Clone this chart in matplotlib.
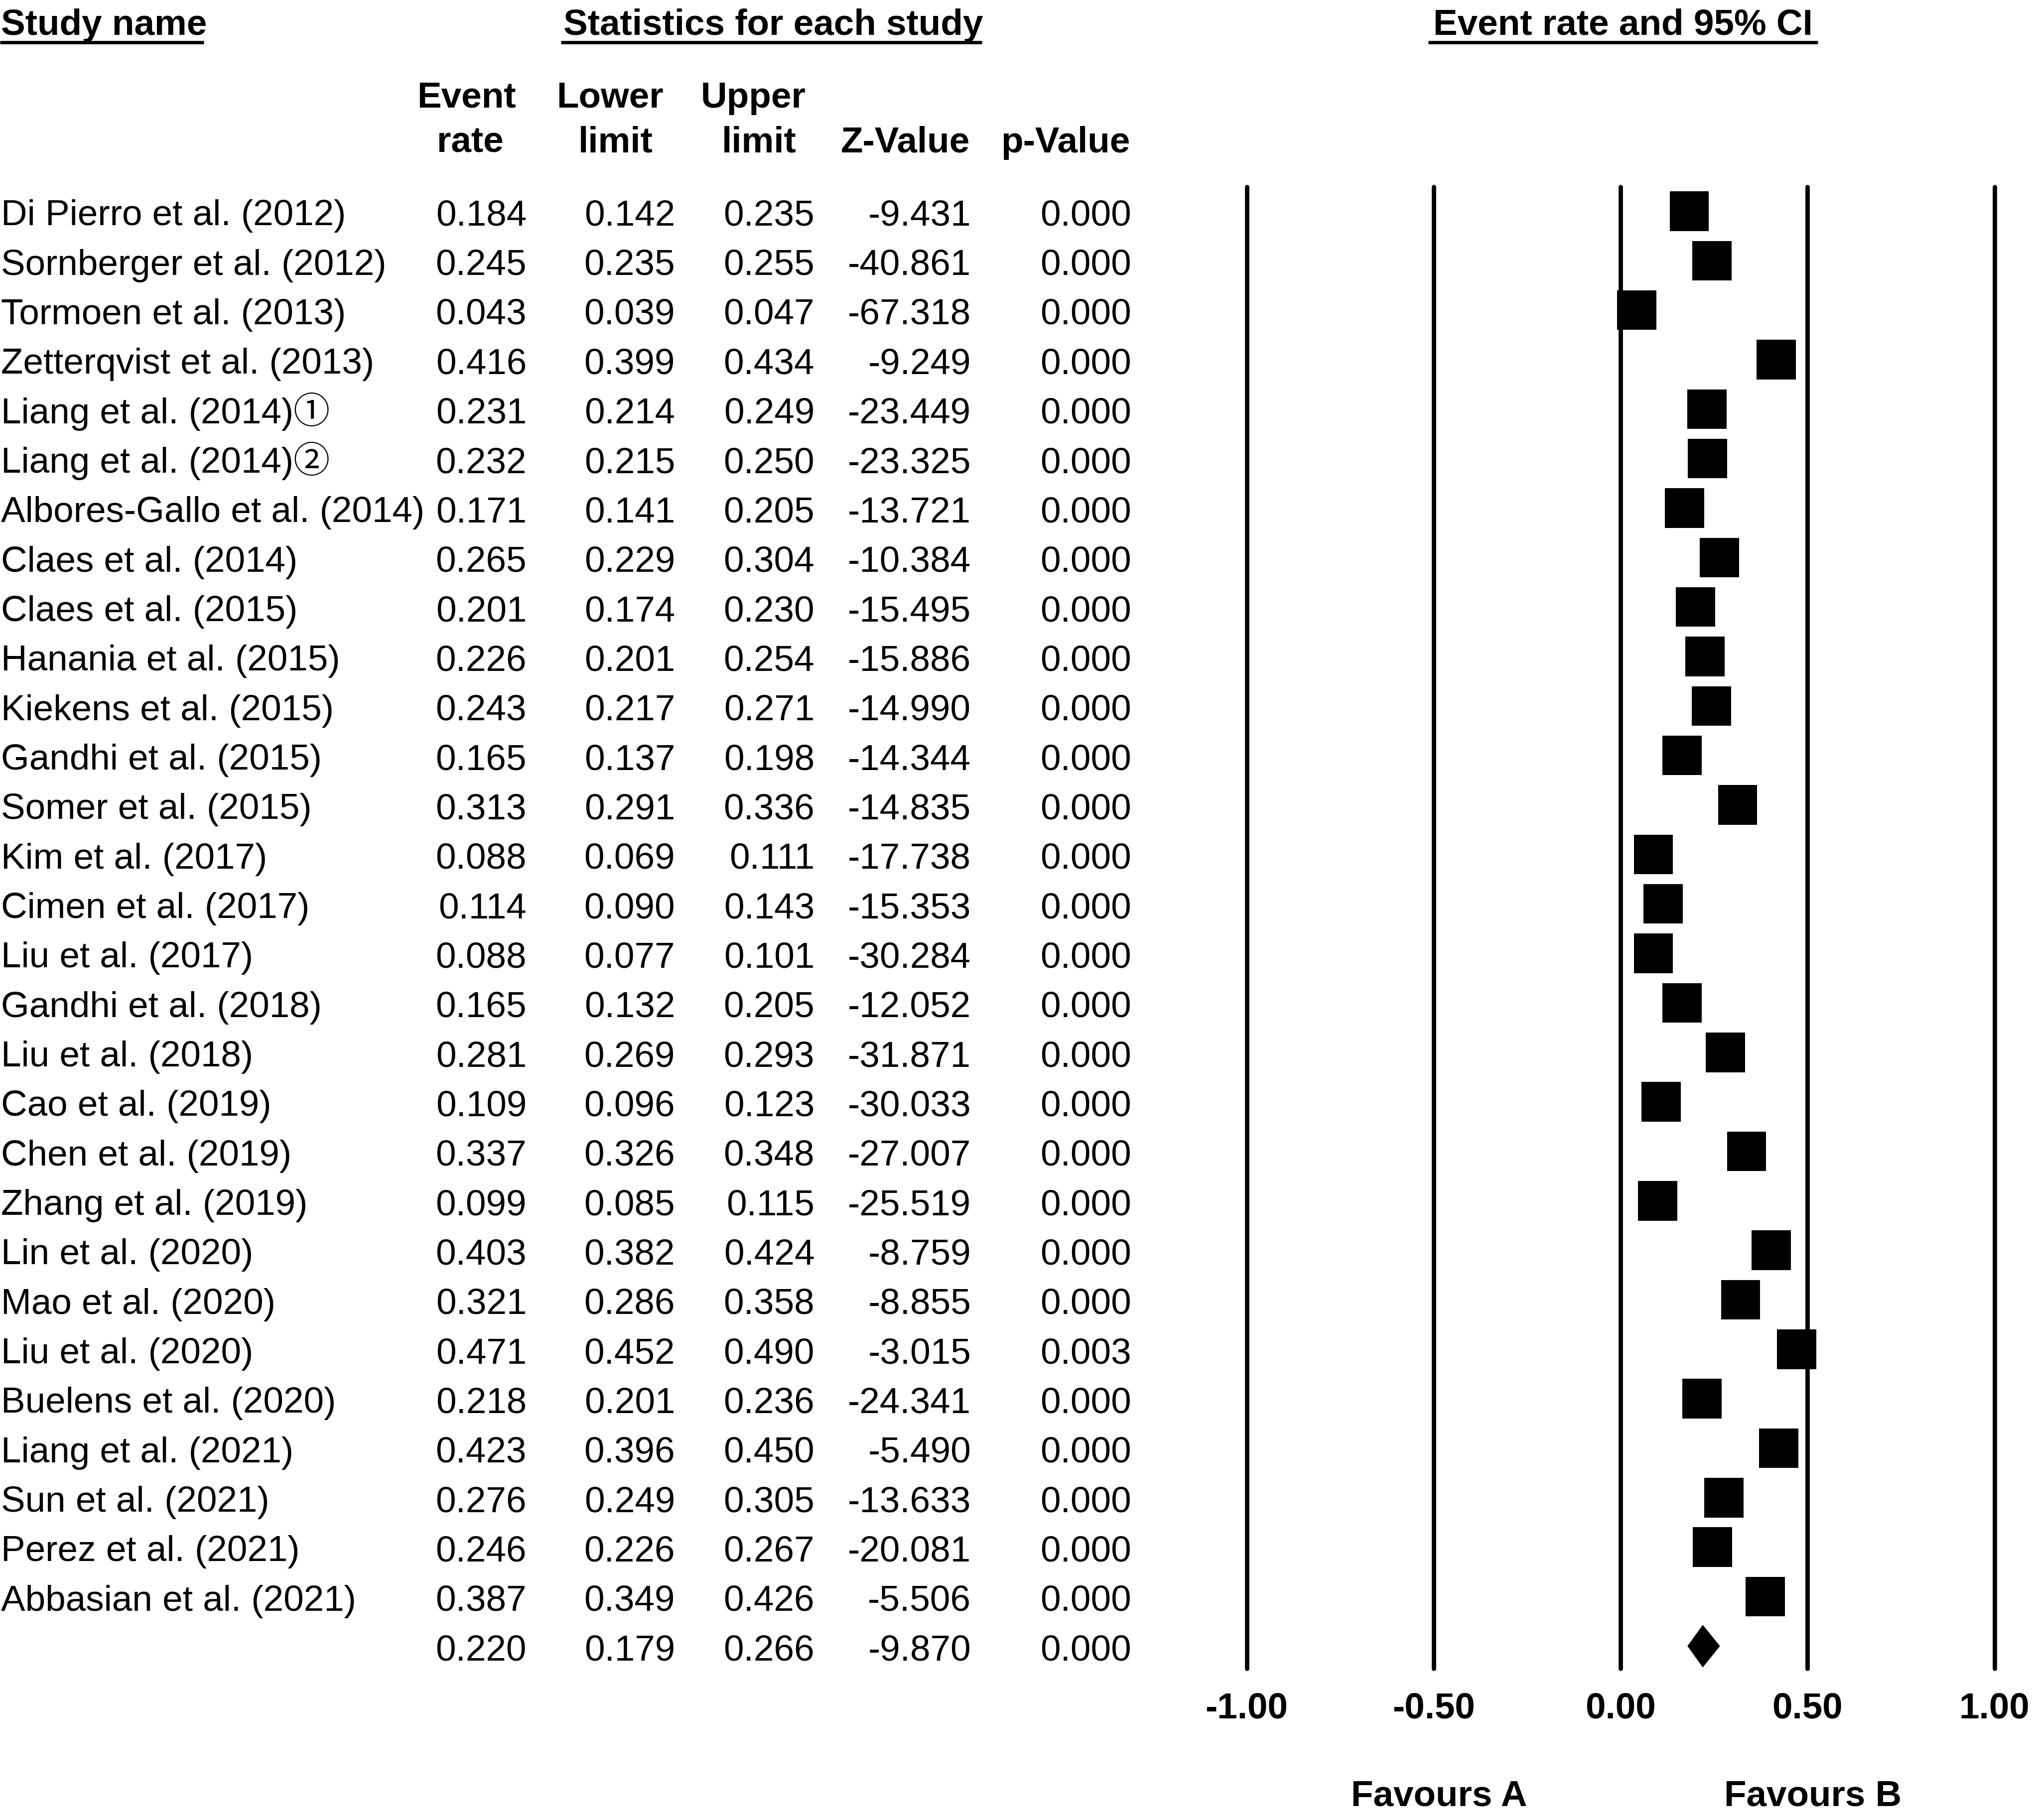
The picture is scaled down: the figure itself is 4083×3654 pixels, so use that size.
import matplotlib.pyplot as plt
from matplotlib.transforms import blended_transform_factory

studies = ['Di Pierro et al. (2012)', 'Sornberger et al. (2012)', 'Tormoen et al. (2013)',
           'Zetterqvist et al. (2013)', 'Liang et al. (2014)\u2460', 'Liang et al. (2014)\u2461',
           'Albores-Gallo et al. (2014)', 'Claes et al. (2014)', 'Claes et al. (2015)',
           'Hanania et al. (2015)', 'Kiekens et al. (2015)', 'Gandhi et al. (2015)',
           'Somer et al. (2015)', 'Kim et al. (2017)', 'Cimen et al. (2017)', 'Liu et al. (2017)',
           'Gandhi et al. (2018)', 'Liu et al. (2018)', 'Cao et al. (2019)', 'Chen et al. (2019)',
           'Zhang et al. (2019)', 'Lin et al. (2020)', 'Mao et al. (2020)', 'Liu et al. (2020)',
           'Buelens et al. (2020)', 'Liang et al. (2021)', 'Sun et al. (2021)',
           'Perez et al. (2021)', 'Abbasian et al. (2021)']
rate = [0.184, 0.245, 0.043, 0.416, 0.231, 0.232, 0.171, 0.265, 0.201, 0.226, 0.243, 0.165,
        0.313, 0.088, 0.114, 0.088, 0.165, 0.281, 0.109, 0.337, 0.099, 0.403, 0.321, 0.471,
        0.218, 0.423, 0.276, 0.246, 0.387]
lower = [0.142, 0.235, 0.039, 0.399, 0.214, 0.215, 0.141, 0.229, 0.174, 0.201, 0.217, 0.137,
         0.291, 0.069, 0.090, 0.077, 0.132, 0.269, 0.096, 0.326, 0.085, 0.382, 0.286, 0.452,
         0.201, 0.396, 0.249, 0.226, 0.349]
upper = [0.235, 0.255, 0.047, 0.434, 0.249, 0.250, 0.205, 0.304, 0.230, 0.254, 0.271, 0.198,
         0.336, 0.111, 0.143, 0.101, 0.205, 0.293, 0.123, 0.348, 0.115, 0.424, 0.358, 0.490,
         0.236, 0.450, 0.305, 0.267, 0.426]
zval = [-9.431, -40.861, -67.318, -9.249, -23.449, -23.325, -13.721, -10.384, -15.495,
        -15.886, -14.990, -14.344, -14.835, -17.738, -15.353, -30.284, -12.052, -31.871,
        -30.033, -27.007, -25.519, -8.759, -8.855, -3.015, -24.341, -5.490, -13.633,
        -20.081, -5.506]
pval = [0.000] * 23 + [0.003] + [0.000] * 5

pooled = {'rate': 0.220, 'lower': 0.179, 'upper': 0.266, 'z': -9.870, 'p': 0.000}

ticks = [-1.00, -0.50, 0.00, 0.50, 1.00]

W, H = 4083, 3654
fs = 17.5
fam = ['Liberation Sans', 'Noto Sans CJK JP', 'DejaVu Sans']
plt.rcParams['font.family'] = fam

fig = plt.figure(figsize=(W / 300, H / 300), dpi=300)
ax = fig.add_axes([0, 0, 1, 1])
ax.axis('off')

# pixel layout of the original: 0 at x=3253, 750.5 px per unit; row 0 at y=424, 99.34 px per row
x0, xu = 3253, 750.5
y0, yu = 424, 99.34
ax.set_xlim(-x0 / xu, (W - x0) / xu)
ax.set_ylim((H - y0) / yu, -y0 / yu)

tr = blended_transform_factory(ax.transAxes, ax.transData)
n = len(studies)

# table text
cols_right = [1057, 1355, 1635, 1949, 2271]
for i in range(n):
    yb = i + 0.285
    ax.text(2 / W, yb, studies[i], transform=tr, fontsize=fs, va='baseline', ha='left')
    vals = ['%.3f' % rate[i], '%.3f' % lower[i], '%.3f' % upper[i], '%.3f' % zval[i], '%.3f' % pval[i]]
    for xr, v in zip(cols_right, vals):
        ax.text(xr / W, yb, v, transform=tr, fontsize=fs, va='baseline', ha='right')

vals = ['%.3f' % pooled['rate'], '%.3f' % pooled['lower'], '%.3f' % pooled['upper'],
        '%.3f' % pooled['z'], '%.3f' % pooled['p']]
for xr, v in zip(cols_right, vals):
    ax.text(xr / W, n + 0.285, v, transform=tr, fontsize=fs, va='baseline', ha='right')

# headers
hy = (70 - y0) / yu
ax.text(2 / W, hy, 'Study name', transform=tr, fontsize=fs, fontweight='bold', va='baseline')
ax.text(1552 / W, hy, 'Statistics for each study', transform=tr, fontsize=fs,
        fontweight='bold', va='baseline', ha='center')
ax.text(3258 / W, hy, 'Event rate and 95% CI', transform=tr, fontsize=fs,
        fontweight='bold', va='baseline', ha='center')
uy = (85 - y0) / yu
for a, b in [(0, 409), (1126, 1971), (2867, 3649)]:
    ax.plot([a / W, b / W], [uy, uy], transform=tr, color='black', lw=1.6, solid_capstyle='butt')

l1 = (216 - y0) / yu
l2 = (306 - y0) / yu
for xc, t in [(936, 'Event'), (1224, 'Lower'), (1512, 'Upper')]:
    ax.text(xc / W, l1, t, transform=tr, fontsize=fs, fontweight='bold', va='baseline', ha='center')
for xc, t in [(944, 'rate'), (1236, 'limit'), (1524, 'limit'), (1818, 'Z-Value'), (2139, 'p-Value')]:
    ax.text(xc / W, l2, t, transform=tr, fontsize=fs, fontweight='bold', va='baseline', ha='center')

# forest plot
ax.vlines(ticks, -0.49, n + 0.45, color='black', lw=2.1, capstyle='round')
ax.barh(range(n), [0.105] * n, left=[r - 0.0525 for r in rate], height=0.8, color='black')
ax.fill([pooled['lower'], pooled['rate'], pooled['upper'], pooled['rate']],
        [n, n - 0.43, n, n + 0.43], color='black', lw=0)

for t in ticks:
    ax.text(t, 30.46, '%.2f' % t, fontsize=fs, fontweight='bold', ha='center', va='baseline')
ax.text(-0.485, 32.23, 'Favours A', fontsize=fs, fontweight='bold', ha='center', va='baseline')
ax.text(0.515, 32.23, 'Favours B', fontsize=fs, fontweight='bold', ha='center', va='baseline')

fig.savefig('out.png', dpi=300, facecolor='white')
